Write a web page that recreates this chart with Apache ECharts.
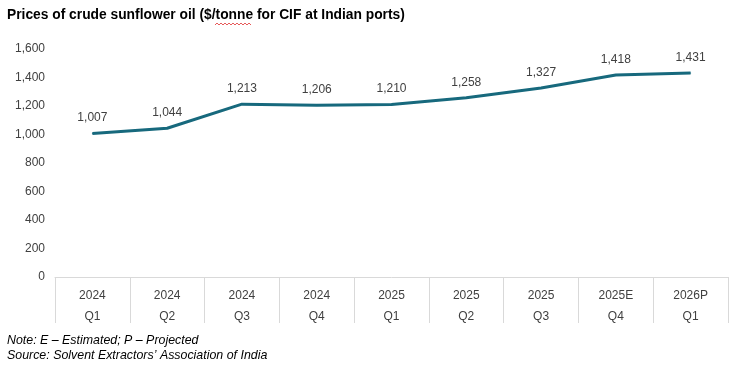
<!DOCTYPE html>
<html><head><meta charset="utf-8">
<script src="https://cdn.jsdelivr.net/npm/echarts@6/dist/echarts.min.js"></script>
<style>html,body{margin:0;padding:0;background:#fff}#c{width:750px;height:374px}</style>
</head><body><div id="c"></div>
<script>
const years = ['2024','2024','2024','2024','2025','2025','2025','2025E','2026P'];
const quarters = ['Q1','Q2','Q3','Q4','Q1','Q2','Q3','Q4','Q1'];
const prices = [1007,1044,1213,1206,1210,1258,1327,1418,1431];
const yTicks = {min:0, max:1600, interval:200};

const categories = years.map((y,i)=>y+'\n'+quarters[i]);
const fmt = v => v.toLocaleString('en-US');
const chart = echarts.init(document.getElementById('c'));
chart.setOption({
  animation:false,
  textStyle:{fontFamily:'Liberation Sans, Arial, sans-serif'},
  title:{text:'Prices of crude sunflower oil ($/tonne for CIF at Indian ports)', left:2, top:3,
    textStyle:{fontSize:13.8, fontWeight:'bold', color:'#000', fontFamily:'Liberation Sans, Arial, sans-serif'}},
  grid:{left:55, right:22, top:49, bottom:97},
  xAxis:{type:'category', data:categories, boundaryGap:true,
    axisLine:{lineStyle:{color:'#d9d9d9', width:1}},
    axisTick:{show:true, interval:0, length:46, lineStyle:{color:'#d9d9d9', width:1}},
    axisLabel:{interval:0, color:'#404040', fontSize:12, lineHeight:21, margin:8}},
  yAxis:{type:'value', min:yTicks.min, max:yTicks.max, interval:yTicks.interval,
    axisLine:{show:false}, axisTick:{show:false}, splitLine:{show:false},
    axisLabel:{color:'#404040', fontSize:12, margin:10, formatter:fmt}},
  graphic:[
    {type:'polyline', shape:{points:(()=>{const p=[];for(let x=215;x<=252;x+=2)p.push([x, 24 + ((x-215)/2%2? -1:1)]);return p;})()},
     style:{stroke:'#e03030', lineWidth:0.8, fill:null}, silent:true},
    {type:'text', left:7, top:333, style:{text:'Note: E – Estimated; P – Projected\nSource: Solvent Extractors’ Association of India',
      font:'italic 12.4px "Liberation Sans", Arial, sans-serif', fill:'#000', lineHeight:15}}
  ],
  series:[{type:'line', data:prices, symbol:'circle', symbolSize:1,
    lineStyle:{color:'#17697d', width:3}, itemStyle:{color:'#17697d'},
    label:{show:true, position:'top', distance:9, color:'#404040', fontSize:12, formatter:p=>fmt(p.value)}}]
});
</script></body></html>
